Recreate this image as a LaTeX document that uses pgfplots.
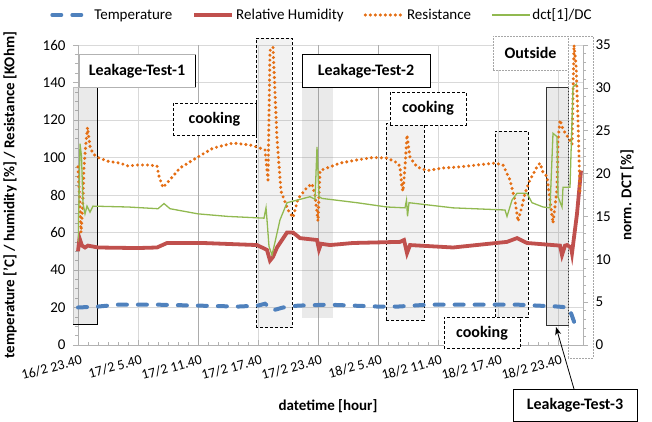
\documentclass[border=0pt]{standalone}
\usepackage{pgfplots}
\pgfplotsset{compat=1.18}
\usepackage{fontspec}
\setmainfont{Carlito}
\usetikzlibrary{arrows.meta}
\definecolor{cTemp}{RGB}{79,129,189}
\definecolor{cHum}{RGB}{192,80,77}
\definecolor{cRes}{RGB}{228,110,20}
\definecolor{cDct}{RGB}{145,185,80}
\tikzset{
  tempstyle/.style={cTemp, line width=4pt, line cap=round, dash pattern=on 9pt off 11pt},
  humstyle/.style={cHum, line width=3.8pt},
  resstyle/.style={cRes, line width=3.4pt, line cap=round, dash pattern=on 0pt off 5pt},
  dctstyle/.style={cDct, line width=1.3pt},
  region/.style={fill=gray, fill opacity=0.17},
  dregion/.style={fill=gray, fill opacity=0.10, draw=black, dash pattern=on 3pt off 2pt, line width=0.9pt},
  lbl/.style={font=\fontsize{16}{18}\selectfont\bfseries},
}
\begin{document}
\begin{tikzpicture}[font=\fontsize{15}{18}\selectfont]
\useasboundingbox (-78pt,-77pt) rectangle (574pt,345pt);
\begin{axis}[
  scale only axis, width=505pt, height=300pt,
  at={(0pt,0pt)}, anchor=south west,
  xmin=0, xmax=50.5, ymin=0, ymax=160,
  axis x line*=bottom, axis y line*=left,
  axis line style={gray!60, line width=0.8pt},
  xtick={0,6,...,48},
  xticklabels={16/2 23.40,17/2 5.40,17/2 11.40,17/2 17.40,17/2 23.40,18/2 5.40,18/2 11.40,18/2 17.40,18/2 23.40},
  minor x tick num=5,
  ytick={0,20,...,160},
  minor y tick num=3,
  xmajorgrids, ymajorgrids,
  major grid style={gray!30, line width=0.6pt},
  tick style={gray!60, line width=0.6pt},
  xtick align=inside, ytick align=outside,
  major tick length=5pt, minor tick length=3pt,
  xticklabel style={yshift=-8pt, xshift=3pt, rotate=15, anchor=north east, font=\fontsize{14}{16}\selectfont, inner sep=1pt},
  yticklabel style={xshift=-4pt},
  clip=false,
  /pgf/number format/assume math mode=true,
  every axis x label/.style={at={(axis description cs:0.495,-0.203)},anchor=center},
  every axis y label/.style={at={(axis description cs:-0.1347,0.5)},rotate=90,anchor=center},
  xlabel={\bfseries datetime [hour]},
  ylabel={\bfseries temperature ['C] / humidity [\%] / Resistance [KOhm]},
]
% darker vertical lines
\draw[gray!65, line width=0.7pt] (12,0) -- (12,160);
\draw[gray!65, line width=0.7pt] (24,0) -- (24,160);
\draw[gray!65, line width=0.7pt] (30,0) -- (30,160);
% shaded regions
\fill[region] (-0.5,11.2) rectangle (1.9,137.6);
\draw[gray!50] (-0.5,11.2) -- (-0.5,137.6) -- (1.9,137.6);
\draw[black, line width=0.8pt] (1.9,137.6) -- (1.9,11.2) -- (-0.5,11.2);
\fill[region] (22.4,14.4) rectangle (25.5,137.6);
\draw[dregion] (17.8,9.1) rectangle (21.4,163.7);
\draw[dregion] (30.8,13.3) rectangle (34.6,117.9);
\draw[dregion] (41.7,14.9) rectangle (45.0,114.1);
\fill[region] (46.8,10.7) rectangle (49.0,137.6);
\draw[black!80, line width=0.8pt] (46.8,10.7) rectangle (49.0,137.6);
\draw[gray!70, dash pattern=on 1.5pt off 1.5pt] (49.0,-6.9) rectangle (51.5,164.8);

\addplot[tempstyle] coordinates {
(0.0,20) (2,20.5) (4,21.5) (8,21.5) (12,21) (16,20.5) (18,21) (18.7,22) (19.5,18.5)
(20.5,20) (22,21) (25,21.5) (30,20.5) (32,20.5) (35,21.5) (40,21.5) (44,21.5) (46,21)
(48,20.5) (49,20) (49.3,17) (49.7,11) (50.2,8)
};
\addplot[humstyle] coordinates {
(0.0,50) (0.15,57) (0.4,53) (0.7,52) (1.0,53) (2.0,52) (5.9,51.7) (7.9,52) (8.9,54.4)
(12.5,54.4) (17.9,53.3) (18.9,50.7) (19.2,45) (19.5,47) (19.9,52) (20.9,60) (21.5,60)
(22.2,57) (23.9,56) (24.1,51) (24.3,54) (25.2,53.3) (27.5,54.4) (32.2,55) (32.6,56)
(32.9,49) (33.2,53.3) (37.5,52) (42.9,55) (43.9,57) (44.9,54.4) (47.5,53.3) (48.2,53)
(48.4,48) (48.7,53) (48.9,53.3) (49.3,52) (49.4,49) (49.9,70) (50.3,93)
};
\addplot[resstyle] coordinates {
(0.0,95) (0.15,80) (0.3,60) (0.45,72) (0.6,95) (0.8,108) (0.95,116) (1.2,106) (1.5,102)
(2.0,100) (3.0,98) (4.2,97) (5.0,95.5) (5.9,96) (7.0,96) (7.9,95.5) (8.1,90) (8.5,84)
(9.0,87) (10.2,94.4) (11.9,100) (13.5,105) (15.5,107.7) (17.2,106.7) (17.9,105.6)
(18.7,104) (19.0,88) (19.2,157) (19.5,159) (19.9,110) (20.3,82) (21.0,72) (21.5,68)
(22.0,78) (22.9,84) (23.4,86) (23.7,80) (24.0,66) (24.2,93) (24.9,94.4) (26.2,97)
(27.9,98.7) (29.5,100) (30.9,99.7) (32.0,97) (32.2,95) (32.4,84) (32.5,82) (32.7,95)
(32.9,112) (33.2,100) (33.9,95) (34.9,93) (36.5,94.4) (38.2,95) (39.9,96) (41.7,97)
(42.5,96) (43.2,88) (43.7,77) (44.0,66) (44.4,74) (44.7,81) (45.2,88) (45.9,95)
(46.2,97) (46.5,92) (46.9,90) (47.2,77) (47.5,65) (47.9,83) (48.0,109) (48.2,120)
(48.5,115) (49.2,109) (49.4,107) (49.6,160) (49.8,150) (50.0,120) (50.1,100) (50.2,80)
};

% label boxes
\draw[gray!60, fill=white] (0.1,137.6) rectangle (11.7,154.9);
\draw[black, line width=0.8pt] (11.7,154.9) -- (11.7,137.6);
\node[lbl] at (5.9,146.2) {Leakage-Test-1};
\draw[black, fill=white, dash pattern=on 3pt off 2pt, line width=0.9pt] (9.5,111.5) rectangle (17.8,129);
\node[lbl] at (13.65,120.2) {cooking};
\draw[black, fill=white, line width=0.8pt] (22.4,137.6) rectangle (35.2,154.9);
\node[lbl] at (28.8,146.2) {Leakage-Test-2};
\draw[black, fill=white, dash pattern=on 3pt off 2pt, line width=0.9pt] (31.2,117.3) rectangle (38.8,134.9);
\node[lbl] at (35.0,126.1) {cooking};
\draw[black, fill=white, dash pattern=on 3pt off 2pt, line width=0.9pt] (36.6,-2.1) rectangle (44.2,14.9);
\node[lbl] at (40.4,6.4) {cooking};
\draw[gray!70, fill=white, dash pattern=on 1.5pt off 1.5pt] (41.5,146.7) rectangle (49.0,164.8);
\node[lbl] at (45.25,155.7) {Outside};
\draw[black, fill=white, line width=0.8pt] (43.5,-40.5) rectangle (55.9,-23.5);
\node[lbl] at (49.7,-32) {Leakage-Test-3};
\draw[black, line width=0.8pt, -{Stealth[length=8pt]}] (49.6,-23.5) -- (47.8,9.6);
\end{axis}
\begin{axis}[
  scale only axis, width=505pt, height=300pt,
  at={(0pt,0pt)}, anchor=south west,
  xmin=0, xmax=50.5, ymin=0, ymax=35,
  axis x line=none, axis y line*=right,
  axis line style={gray!60, line width=0.8pt},
  ytick={0,5,...,35}, minor y tick num=4,
  tick style={gray!60, line width=0.6pt},
  ytick align=outside, major tick length=5pt, minor tick length=3pt,
  yticklabel style={xshift=4pt},
  /pgf/number format/assume math mode=true,
  every axis y label/.style={at={(axis description cs:1.087,0.5)},rotate=90,anchor=center},
  ylabel={\bfseries norm. DCT [\%]},
  legend style={at={(0.483,1.1)}, anchor=center, draw=none, fill=none,
    legend columns=4, /tikz/every even column/.append style={column sep=18pt},
    font=\fontsize{15}{18}\selectfont, inner sep=0pt},
  legend image code/.code={\draw[#1] (0pt,0pt) -- (38pt,0pt);},
]
\addlegendimage{tempstyle}
\addlegendentry{Temperature}
\addlegendimage{humstyle}
\addlegendentry{Relative Humidity}
\addlegendimage{resstyle}
\addlegendentry{Resistance}
\addplot[dctstyle] coordinates {
(0.0,12) (0.1,17) (0.2,23.5) (0.35,22) (0.5,16.5) (0.7,15.3) (0.9,16.2) (1.2,15.5)
(1.5,16.2) (5.0,16.1) (8.0,15.9) (8.6,16.5) (9.2,15.9) (12.0,15.3) (15.0,15.0)
(18.6,14.8) (18.8,16.0) (18.9,14.6) (19.1,11.5) (19.4,10.5) (19.7,12) (20.2,14.6)
(20.9,16.6) (21.9,16.9) (23.2,17.3) (23.7,17.0) (23.9,23.1) (24.1,17.3) (24.4,17.1)
(27.9,16.6) (30.9,16.1) (32.7,16.0) (32.85,16.9) (32.95,15.0) (33.1,16.6) (37.5,16.0)
(42.7,15.75) (42.9,15.0) (43.4,16.9) (43.9,17.7) (44.9,17.7) (45.4,16.6) (46.5,16.1)
(47.2,16.0) (47.5,24.7) (47.9,24.3) (48.0,17.3) (48.4,16.1) (48.5,18.4) (49.2,18.4)
(49.5,30.1) (49.9,30.5)
};
\addlegendentry{dct[1]/DC}
\end{axis}
\end{tikzpicture}
\end{document}
